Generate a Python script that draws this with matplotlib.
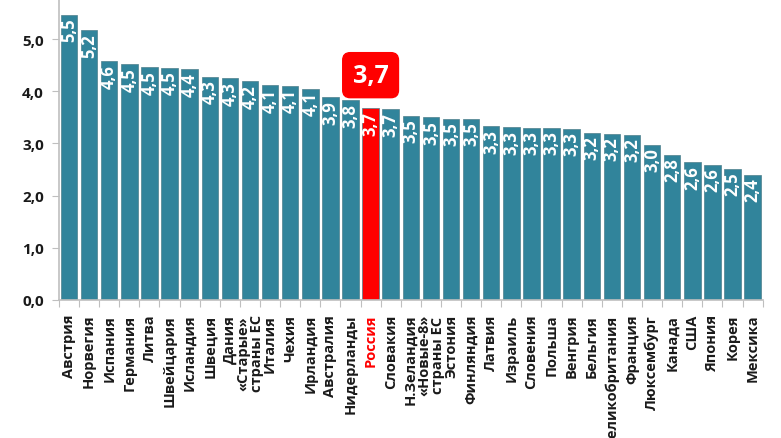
import matplotlib
matplotlib.use("Agg")
import matplotlib.pyplot as plt

plt.rcParams['font.family'] = ['Open Sans', 'DejaVu Sans']

# data
countries = ['Австрия', 'Норвегия', 'Испания', 'Германия', 'Литва', 'Швейцария',
             'Исландия', 'Швеция', 'Дания', '«Старые»\nстраны ЕС', 'Италия', 'Чехия',
             'Ирландия', 'Австралия', 'Нидерланды', 'Россия', 'Словакия', 'Н.Зеландия',
             '«Новые-8»\nстраны ЕС', 'Эстония', 'Финляндия', 'Латвия', 'Израиль',
             'Словения', 'Польша', 'Венгрия', 'Бельгия', 'Великобритания', 'Франция',
             'Люксембург', 'Канада', 'США', 'Япония', 'Корея', 'Мексика']
values = [5.46, 5.17, 4.58, 4.52, 4.46, 4.45, 4.42, 4.28, 4.25, 4.19, 4.12, 4.11,
          4.05, 3.89, 3.83, 3.68, 3.66, 3.53, 3.50, 3.47, 3.47, 3.33, 3.31, 3.30,
          3.30, 3.28, 3.21, 3.18, 3.17, 2.98, 2.78, 2.64, 2.59, 2.51, 2.40]
value_labels = ['5,5', '5,2', '4,6', '4,5', '4,5', '4,5', '4,4', '4,3', '4,3', '4,2',
                '4,1', '4,1', '4,1', '3,9', '3,8', '3,7', '3,7', '3,5', '3,5', '3,5',
                '3,5', '3,3', '3,3', '3,3', '3,3', '3,3', '3,2', '3,2', '3,2', '3,0',
                '2,8', '2,6', '2,6', '2,5', '2,4']
highlight = 'Россия'
yticks = [0, 1, 2, 3, 4, 5]
ytick_labels = ['0,0', '1,0', '2,0', '3,0', '4,0', '5,0']

teal = '#31849b'
red = '#ff0000'
grey = '#bfbfbf'

fig = plt.figure(figsize=(7.81, 4.39), dpi=100)
ax = fig.add_axes([0.0755, 0.3144, 0.901, 0.6856])

x = range(len(countries))
colors = [red if c == highlight else teal for c in countries]
ax.bar(x, values, width=0.82, color=colors, edgecolor='#4f7f8c', linewidth=0.5)

for i, (v, lab) in enumerate(zip(values, value_labels)):
    ax.text(i, v - 0.05, lab, rotation=90, ha='center', va='top',
            color='white', fontsize=12, fontweight='bold')

ax.set_xlim(-0.5, len(countries) - 0.5)
ax.set_ylim(0, 5.77)

ax.set_yticks(yticks)
ax.set_yticklabels(ytick_labels, fontsize=11, fontweight='bold', color='#1a1a1a')
ax.set_xticks([i + 0.5 for i in range(-1, len(countries))])
ax.set_xticklabels([])
ax.tick_params(axis='y', length=5, color=grey, pad=6)
ax.tick_params(axis='x', length=5, color=grey)

for i, c in enumerate(countries):
    ax.annotate(c, (i, 0), xytext=(0, -10), textcoords='offset points',
                rotation=90, ha='center', va='top', fontsize=10.5, fontweight='bold',
                color=red if c == highlight else '#1a1a1a', linespacing=0.95,
                annotation_clip=False)

for s in ['top', 'right']:
    ax.spines[s].set_visible(False)
for s in ['left', 'bottom']:
    ax.spines[s].set_color(grey)
    ax.spines[s].set_linewidth(1.2)

# callout over Russia
ri = countries.index(highlight)
ax.text(ri, 4.31, value_labels[ri], ha='center', va='center', color='white',
        fontsize=18, fontweight='bold',
        bbox=dict(boxstyle='round,pad=0.4,rounding_size=0.3', fc=red, ec=red))

fig.savefig('out.png', dpi=100)
